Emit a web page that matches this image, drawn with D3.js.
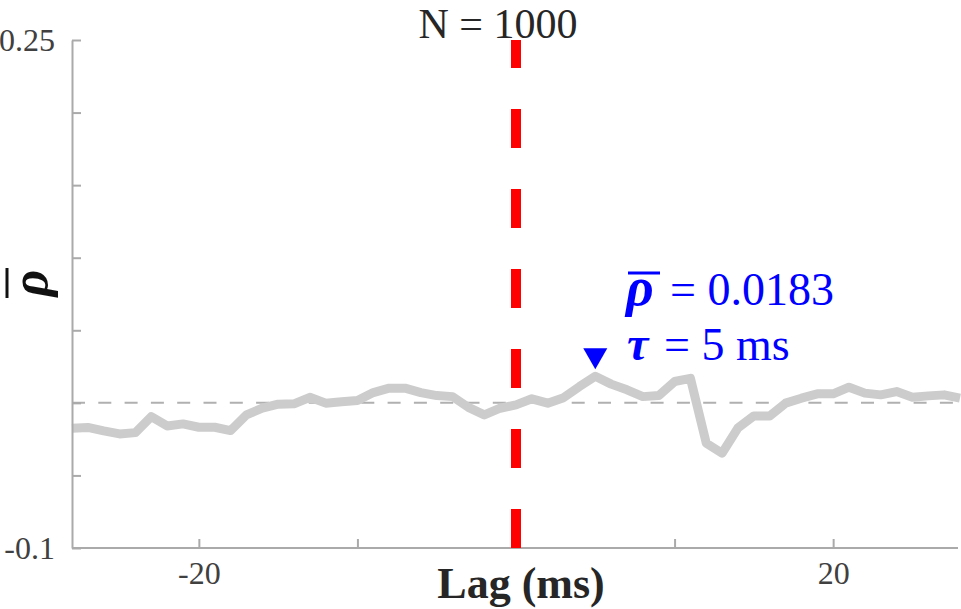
<!DOCTYPE html>
<html>
<head>
<meta charset="utf-8">
<script src="https://cdn.jsdelivr.net/npm/d3@7"></script>
<style>
  body { margin: 0; background: #fff; }
  svg { display: block; }
</style>
</head>
<body>
<svg id="svg"></svg>
<script>
const width = 961;
const height = 609;

// data
const lags = d3.range(-28, 29);
const rhoMean = [
  -0.0175, -0.0169, -0.0193, -0.0214, -0.0205, -0.0095, -0.0159, -0.0145, -0.0168, -0.0168,
  -0.0191, -0.0083, -0.0037, -0.0009, -0.0007, 0.0038, -0.0002, 0.0007, 0.0016, 0.0071,
  0.0101, 0.0101, 0.0071, 0.0050, 0.0043, -0.0031, -0.0083, -0.0037, -0.0014, 0.0028,
  -0.0002, 0.0036, 0.0112, 0.0183, 0.0129, 0.0090, 0.0043, 0.0050, 0.0147, 0.0169,
  -0.0278, -0.0347, -0.0172, -0.0090, -0.0090, -0.0002, 0.0032, 0.0062, 0.0062, 0.0108,
  0.0067, 0.0055, 0.0078, 0.0039, 0.0048, 0.0055, 0.0032
];
const xTicks = [-20, -10, 0, 10, 20];
const xTickLabels = ["-20", "", "", "", "20"];
const yTicks = [-0.1, -0.05, 0, 0.05, 0.1, 0.15, 0.2, 0.25];
const yTickLabels = ["-0.1", "", "", "", "", "", "", "0.25"];
const peakLag = 5, peakRho = 0.0183;
const trialCount = 1000;

const serif = "'Liberation Serif', 'Times New Roman', serif";
const blue = "#0000ff";

const x = d3.scaleLinear().domain([-28, 28]).range([72, 960]);
const y = d3.scaleLinear().domain([-0.1, 0.25]).range([548, 40]);

const svg = d3.select("#svg")
    .attr("width", width)
    .attr("height", height);

// zero reference line
svg.append("line")
    .attr("x1", x(-28)).attr("x2", x(28) - 2)
    .attr("y1", y(0)).attr("y2", y(0))
    .attr("stroke", "#b0b0b0")
    .attr("stroke-width", 2)
    .attr("stroke-dasharray", "13,13.3");

// averaged correlation curve
svg.append("path")
    .datum(lags.map((d, i) => [d, rhoMean[i]]))
    .attr("fill", "none")
    .attr("stroke", "#cccccc")
    .attr("stroke-width", 9)
    .attr("stroke-linejoin", "round")
    .attr("d", d3.line().x(d => x(d[0])).y(d => y(d[1])));

// axes, MATLAB style ticks pointing inward
const xAxis = svg.append("g")
    .attr("transform", `translate(0, ${y(-0.1)})`)
    .call(d3.axisBottom(x).tickValues(xTicks).tickSizeInner(-9).tickSizeOuter(0)
        .tickFormat((d, i) => xTickLabels[i]));
xAxis.select(".domain").attr("d", `M${x(-28)},0H${x(28) - 2}`);

const yAxis = svg.append("g")
    .attr("transform", `translate(${x(-28)}, 0)`)
    .call(d3.axisLeft(y).tickValues(yTicks).tickSizeInner(-9).tickSizeOuter(0)
        .tickFormat((d, i) => yTickLabels[i]));

svg.selectAll(".domain, .tick line")
    .attr("stroke", "#aaaaaa")
    .attr("stroke-width", 2);

xAxis.selectAll("text")
    .attr("font-family", serif)
    .attr("font-size", 32)
    .attr("fill", "#404040")
    .attr("dy", null)
    .attr("y", 36);

yAxis.selectAll("text")
    .attr("font-family", serif)
    .attr("font-size", 32)
    .attr("fill", "#404040")
    .attr("x", -17)
    .attr("dy", "0.33em");

// red dashed line at lag 0, dashes counted from the bottom
svg.append("line")
    .attr("x1", x(0)).attr("x2", x(0))
    .attr("y1", y(-0.1)).attr("y2", y(0.25))
    .attr("stroke", "#ff0000")
    .attr("stroke-width", 10)
    .attr("stroke-dasharray", "39,41");

// title
svg.append("text")
    .attr("x", 498)
    .attr("y", 38)
    .attr("text-anchor", "middle")
    .attr("font-family", serif)
    .attr("font-size", 42)
    .attr("fill", "#262626")
    .text(`N = ${trialCount}`);

// x label
svg.append("text")
    .attr("x", 521)
    .attr("y", 598)
    .attr("text-anchor", "middle")
    .attr("font-family", serif)
    .attr("font-size", 44)
    .attr("font-weight", "bold")
    .attr("fill", "#262626")
    .text("Lag (ms)");

// y label: rho with a bar, rotated
const yLab = svg.append("g")
    .attr("transform", "translate(47, 283) rotate(-90)");
yLab.append("text")
    .attr("text-anchor", "middle")
    .attr("font-family", serif)
    .attr("font-size", 52)
    .attr("font-weight", "bold")
    .attr("font-style", "italic")
    .attr("fill", "#111")
    .text("ρ");
yLab.append("line")
    .attr("x1", -15).attr("x2", 15)
    .attr("y1", -40).attr("y2", -40)
    .attr("stroke", "#111")
    .attr("stroke-width", 3);

// peak marker
svg.append("path")
    .attr("d", d3.symbol(d3.symbolTriangle, 250)())
    .attr("transform", `translate(${x(peakLag)}, ${y(peakRho) - 21}) rotate(180)`)
    .attr("fill", blue);

// peak annotation
const ann = svg.append("g")
    .attr("font-family", serif)
    .attr("fill", blue);

const line1 = ann.append("text").attr("y", 305).attr("font-size", 46);
line1.append("tspan")
    .attr("x", 626)
    .attr("font-size", 54)
    .attr("font-weight", "bold")
    .attr("font-style", "italic")
    .text("ρ");
line1.append("tspan")
    .attr("x", 670)
    .text(`= ${peakRho}`);
ann.append("line")
    .attr("x1", 628).attr("x2", 660)
    .attr("y1", 273).attr("y2", 273)
    .attr("stroke", blue)
    .attr("stroke-width", 3);

const line2 = ann.append("text").attr("y", 360).attr("font-size", 46);
line2.append("tspan")
    .attr("x", 627)
    .attr("font-size", 48)
    .attr("font-weight", "bold")
    .attr("font-style", "italic")
    .text("τ");
line2.append("tspan")
    .attr("x", 664)
    .text(`= ${peakLag} ms`);
</script>
</body>
</html>
